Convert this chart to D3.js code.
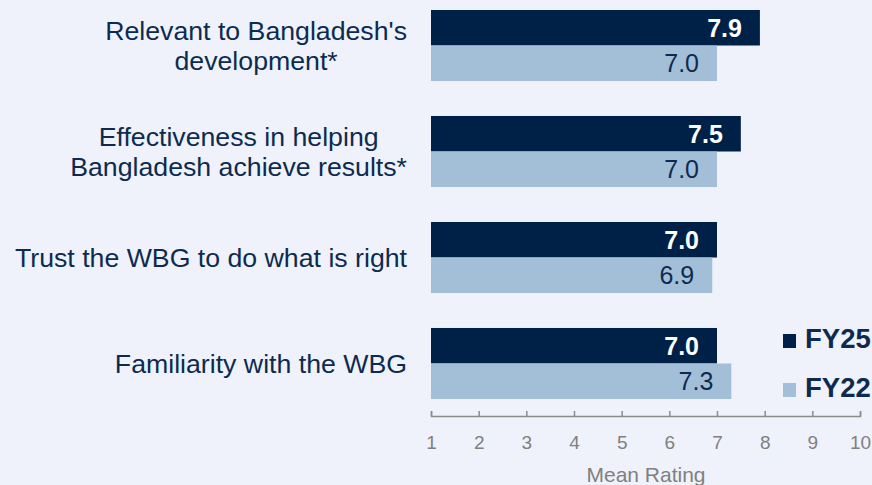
<!DOCTYPE html>
<html><head><meta charset="utf-8">
<script src="https://cdn.jsdelivr.net/npm/d3@7"></script>
<style>
html,body{margin:0;padding:0;background:#eff2fa;}
svg{display:block;font-family:"Liberation Sans",Arial,sans-serif;}
</style></head>
<body><svg id="c" width="872" height="485"></svg>
<script>
const categories = [
  ["Relevant to Bangladesh's", "development*"],
  ["Effectiveness in helping", "Bangladesh achieve results*"],
  ["Trust the WBG to do what is right"],
  ["Familiarity with the WBG"]
];
const fy25 = [7.9, 7.5, 7.0, 7.0];
const fy22 = [7.0, 7.0, 6.9, 7.3];
const seriesNames = ["FY25", "FY22"];
const tickValues = [1,2,3,4,5,6,7,8,9,10];

const dark = "#002147", light = "#a3bed7", textCol = "#0d2b50";
const svg = d3.select("#c");
svg.append("rect").attr("width",872).attr("height",485).attr("fill","#eff2fa");

const x = d3.scaleLinear().domain([1,10]).range([431,860]);
const y = d3.scaleBand().domain(d3.range(categories.length)).range([-7.5,416.5]).paddingInner(0.33).paddingOuter(0.165);
const sub = d3.scaleBand().domain([0,1]).range([0,y.bandwidth()]);

const series = [fy25, fy22];
series.forEach((vals, si) => {
  const g = svg.append("g");
  g.selectAll("rect").data(vals).join("rect")
    .attr("x", x(1))
    .attr("y", (d,i) => y(i) + sub(si))
    .attr("width", d => x(d) - x(1))
    .attr("height", sub.bandwidth())
    .attr("fill", si === 0 ? dark : light);
  g.selectAll("text").data(vals).join("text")
    .attr("x", d => x(d) - 18)
    .attr("y", (d,i) => y(i) + sub(si) + sub.bandwidth()/2)
    .attr("dy", "0.36em")
    .attr("text-anchor", "end")
    .attr("font-size", 25)
    .attr("font-weight", si === 0 ? "bold" : "normal")
    .attr("fill", si === 0 ? "#ffffff" : textCol)
    .text(d => d.toFixed(1));
});

// category labels: block right-aligned at 407, lines centered within block
categories.forEach((lines, i) => {
  const cy = y(i) + y.bandwidth()/2;
  const t = svg.append("text").attr("font-size", 26.7).attr("fill", textCol).attr("text-anchor","middle");
  const n = lines.length;
  const spans = lines.map((l, k) => t.append("tspan")
    .attr("y", cy + (k - (n-1)/2) * 30)
    .attr("dy", "0.34em")
    .text(l));
  let maxW = 0;
  spans.forEach(s => { maxW = Math.max(maxW, s.node().getComputedTextLength()); });
  spans.forEach(s => s.attr("x", 407 - maxW/2));
});

// axis
const axis = d3.axisBottom(x).tickValues(tickValues).tickSizeInner(-5).tickSizeOuter(-5).tickPadding(20).tickFormat(d3.format("d"));
const ag = svg.append("g").attr("transform","translate(0,416)").call(axis);
ag.select(".domain").attr("stroke","#8c8c8c").attr("stroke-width",1.5);
ag.selectAll(".tick line").attr("stroke","#8c8c8c").attr("stroke-width",1.5);
ag.selectAll(".tick text").attr("font-size",19).attr("fill","#808080").attr("font-family","Liberation Sans, Arial, sans-serif");

svg.append("text").attr("x", 646).attr("y", 482).attr("text-anchor","middle")
  .attr("font-size", 21).attr("fill","#808080").text("Mean Rating");

// legend
const legY = [348, 397];
seriesNames.forEach((name, i) => {
  svg.append("rect").attr("x", 783).attr("y", legY[i]-14).attr("width", 13).attr("height", 14)
    .attr("fill", i === 0 ? dark : light);
  svg.append("text").attr("x", 805).attr("y", legY[i]).attr("font-size", 27.5).attr("font-weight","bold")
    .attr("fill", textCol).text(name);
});
</script></body></html>
